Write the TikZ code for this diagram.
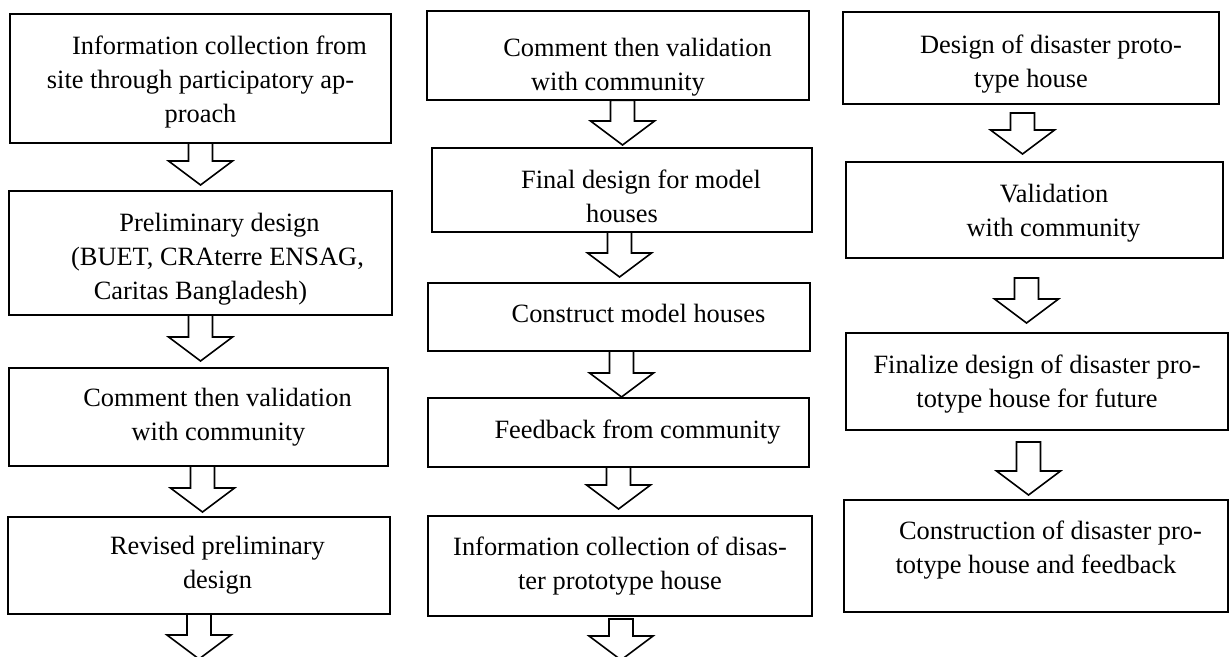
\documentclass[tikz,border=0pt]{standalone}
\usepackage{fontspec}
\setmainfont{Liberation Serif}
\usetikzlibrary{calc}
\newcommand{\indt}[1][19pt]{\hspace*{#1}}
\newcommand{\pushdown}[1]{\rule{0pt}{#1}}
\newcommand{\pushup}[1]{\rule[-#1]{0pt}{#1}}
\begin{document}
\begin{tikzpicture}[x=0.5pt,y=-0.5pt,
    box/.style={draw,line width=1pt,outer sep=0pt,inner sep=2pt,align=center,font=\fontsize{13.2pt}{17pt}\selectfont},
    blockarrow/.style={draw,line width=0.8pt,to path={let \p1=(\tikztostart),\p2=(\tikztotarget) in
        (\x1-6pt,\y1)--(\x1-6pt,\y2+12pt)--(\x1-16pt,\y2+12pt)--(\x1,\y2)--(\x1+16pt,\y2+12pt)--(\x1+6pt,\y2+12pt)--(\x1+6pt,\y1)--cycle}}]
    \useasboundingbox (0,0) rectangle (1229,657);
    \node[box,minimum width=190.5pt,minimum height=64.5pt](a1) at (200.5,78.5){\pushdown{12.5pt}\indt Information collection from\\site through participatory ap-\\proach};
    \node[box,minimum width=191.5pt,minimum height=62pt](a2) at (200.5,253){\pushdown{15pt}\indt Preliminary design\\\indt[17pt](BUET, CRAterre ENSAG,\\Caritas Bangladesh)};
    \node[box,minimum width=189.5pt,minimum height=49pt](a3) at (198.5,417){\indt Comment then validation\\\indt[20pt]with community};
    \node[box,minimum width=191pt,minimum height=48.5pt](a4) at (199,565.5){\indt[18.5pt]Revised preliminary\\\indt[18.5pt]design};
    \node[box,minimum width=191pt,minimum height=42.5pt](b1) at (618,55.5){\pushdown{21pt}\indt[19.5pt]Comment then validation\\with community};
    \node[box,minimum width=190pt,minimum height=42pt](b2) at (622,190){\pushdown{15.5pt}\indt Final design for model\\houses};
    \node[box,minimum width=191pt,minimum height=34pt](b3) at (619,317){\indt[19.5pt]Construct model houses\pushup{4pt}};
    \node[box,minimum width=190.5pt,minimum height=34.5pt](b4) at (618.5,432.5){\indt Feedback from community};
    \node[box,minimum width=192pt,minimum height=50pt](b5) at (620,566){Information collection of disas-\\ter prototype house};
    \node[box,minimum width=188pt,minimum height=46pt](c1) at (1031,58){\pushdown{15.5pt}\indt[20pt]Design of disaster proto-\\type house};
    \node[box,minimum width=188.5pt,minimum height=48pt](c2) at (1034.5,210){\pushdown{12.5pt}\indt[19.5pt]Validation\\\indt with community};
    \node[box,minimum width=191pt,minimum height=48.5pt](c3) at (1037,381.5){\pushdown{11.5pt}Finalize design of disaster pro-\\totype house for future};
    \node[box,minimum width=192pt,minimum height=56pt](c4) at (1036,556){\indt[14.5pt]Construction of disaster pro-\\totype house and feedback\pushup{9pt}};
    \coordinate (aout) at (199,659);
    \coordinate (bout) at (621,660);
    \draw[blockarrow](a1.south) to ([yshift=3pt]a2.north);
    \draw[blockarrow](a2.south) to ([yshift=3.5pt]a3.north);
    \draw[blockarrow]([xshift=2pt]a3.south) to ([yshift=2.5pt]a4.north);
    \draw[blockarrow](a4.south) to (aout);
    \draw[blockarrow]([xshift=2.25pt]b1.south) to ([yshift=1.5pt]b2.north);
    \draw[blockarrow]([xshift=-1.25pt]b2.south) to ([yshift=3pt]b3.north);
    \draw[blockarrow]([xshift=1.25pt]b3.south) to ([yshift=0.5pt]b4.north);
    \draw[blockarrow](b4.south) to ([yshift=3.5pt]b5.north);
    \draw[blockarrow]([xshift=0.5pt,yshift=-1.5pt]b5.south) to (bout);
    \draw[blockarrow]([xshift=-4.25pt,yshift=-4.5pt]c1.south) to ([yshift=4pt]c2.north);
    \draw[blockarrow]([xshift=-4pt,yshift=-10pt]c2.south) to ([yshift=5pt]c3.north);
    \draw[blockarrow]([xshift=-4.25pt,yshift=-6pt]c3.south) to ([yshift=2.5pt]c4.north);
\end{tikzpicture}
\end{document}
